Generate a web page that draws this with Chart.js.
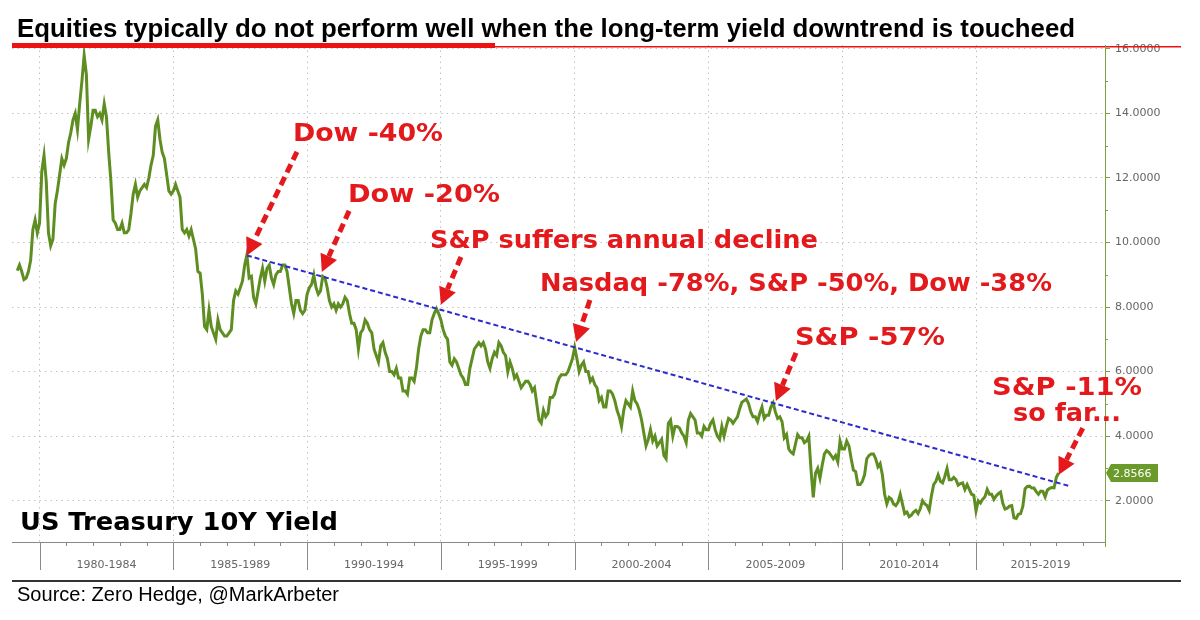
<!DOCTYPE html>
<html>
<head>
<meta charset="utf-8">
<script src="https://cdn.jsdelivr.net/npm/chart.js@4.4.1/dist/chart.umd.min.js"></script>
<style>
    html, body { margin: 0; padding: 0; background: #fff; }
</style>
</head>
<body>
<canvas id="yieldChart" width="1200" height="620"></canvas>
<script>
// US 10Y Treasury yield, monthly, from Mar 1979 to Feb 2018
const startYear = 1979;
const startMonth = 2; // March
const y1979 = [9.13, 9.3, 9.1, 8.85, 8.9, 9.1, 9.45, 10.4, 10.7, 10.3];
const y1980 = [10.6, 12.2, 12.7, 11.9, 10.3, 9.9, 10.1, 11.2, 11.6, 12.1, 12.6, 12.4];
const y1981 = [12.6, 13.1, 13.4, 13.8, 14.0, 13.5, 14.3, 15.0, 15.8, 15.2, 13.2, 13.6];
const y1982 = [14.1, 14.1, 13.9, 14.0, 13.8, 14.3, 13.9, 12.8, 11.9, 10.7, 10.6, 10.4];
const y1983 = [10.4, 10.6, 10.3, 10.3, 10.4, 10.9, 11.5, 11.8, 11.4, 11.6, 11.7, 11.8];
const y1984 = [11.7, 12.0, 12.4, 12.7, 13.6, 13.8, 13.2, 12.8, 12.6, 12.1, 11.6, 11.5];
const y1985 = [11.6, 11.8, 11.6, 11.4, 10.4, 10.3, 10.4, 10.2, 10.4, 10.1, 9.8, 9.1];
const y1986 = [9.05, 8.4, 7.4, 7.3, 7.9, 7.4, 7.2, 7.0, 7.6, 7.3, 7.2, 7.1];
const y1987 = [7.1, 7.2, 7.3, 8.2, 8.5, 8.4, 8.6, 8.8, 9.3, 9.62, 8.9, 8.95];
const y1988 = [8.3, 8.1, 8.5, 8.9, 9.2, 8.8, 9.2, 9.3, 8.9, 8.7, 9.0, 9.1];
const y1989 = [9.1, 9.3, 9.3, 9.1, 8.6, 8.1, 7.8, 8.2, 8.2, 7.9, 7.8, 7.9];
const y1990 = [8.4, 8.6, 8.7, 9.0, 8.6, 8.4, 8.5, 8.95, 8.9, 8.6, 8.2, 8.0];
const y1991 = [8.1, 7.9, 8.1, 8.0, 8.1, 8.3, 8.2, 7.8, 7.5, 7.5, 7.3, 6.7];
const y1992 = [7.2, 7.3, 7.6, 7.5, 7.3, 7.2, 6.7, 6.5, 6.3, 6.8, 6.9, 6.6];
const y1993 = [6.4, 6.0, 6.0, 5.9, 6.1, 5.8, 5.8, 5.4, 5.4, 5.3, 5.8, 5.8];
const y1994 = [5.7, 6.1, 6.7, 7.1, 7.3, 7.3, 7.2, 7.2, 7.6, 7.8, 7.95, 7.8];
const y1995 = [7.6, 7.3, 7.1, 7.0, 6.3, 6.2, 6.4, 6.3, 6.1, 5.9, 5.8, 5.6];
const y1996 = [5.6, 6.1, 6.4, 6.7, 6.8, 6.9, 6.8, 6.9, 6.7, 6.3, 6.1, 6.4];
const y1997 = [6.6, 6.5, 6.9, 6.8, 6.6, 6.5, 6.0, 6.3, 6.1, 5.8, 5.9, 5.7];
const y1998 = [5.5, 5.6, 5.7, 5.7, 5.6, 5.4, 5.5, 5.0, 4.5, 4.4, 4.8, 4.6];
const y1999 = [4.7, 5.2, 5.2, 5.3, 5.6, 5.8, 5.9, 5.9, 5.9, 6.0, 6.2, 6.4];
const y2000 = [6.75, 6.4, 6.0, 6.2, 6.3, 6.0, 6.0, 5.7, 5.8, 5.6, 5.5, 5.1];
const y2001 = [5.2, 4.9, 4.9, 5.4, 5.4, 5.3, 5.1, 4.8, 4.6, 4.3, 4.8, 5.1];
const y2002 = [5.0, 4.9, 5.4, 5.1, 5.0, 4.8, 4.5, 4.1, 3.7, 3.9, 4.2, 3.85];
const y2003 = [4.0, 3.7, 3.8, 3.9, 3.4, 3.3, 4.4, 4.5, 4.0, 4.3, 4.3, 4.25];
const y2004 = [4.1, 4.0, 3.8, 4.5, 4.7, 4.6, 4.5, 4.1, 4.1, 4.0, 4.3, 4.2];
const y2005 = [4.2, 4.4, 4.5, 4.2, 4.0, 3.9, 4.3, 4.0, 4.3, 4.55, 4.5, 4.4];
const y2006 = [4.5, 4.6, 4.85, 5.05, 5.1, 5.15, 5.0, 4.75, 4.6, 4.6, 4.45, 4.7];
const y2007 = [4.9, 4.55, 4.65, 4.65, 4.9, 5.03, 4.75, 4.55, 4.6, 4.45, 3.95, 4.05];
const y2008 = [3.6, 3.5, 3.45, 3.75, 4.05, 3.95, 3.95, 3.8, 3.85, 4.0, 2.95, 2.1];
const y2009 = [2.85, 3.0, 2.7, 3.1, 3.45, 3.55, 3.5, 3.4, 3.3, 3.4, 3.2, 3.85];
const y2010 = [3.6, 3.6, 3.85, 3.7, 3.3, 2.95, 2.9, 2.5, 2.5, 2.6, 2.8, 3.3];
const y2011 = [3.4, 3.45, 3.45, 3.3, 3.05, 3.15, 2.8, 2.2, 1.9, 2.1, 2.05, 1.9];
const y2012 = [1.85, 1.95, 2.2, 1.9, 1.6, 1.65, 1.5, 1.55, 1.65, 1.7, 1.6, 1.75];
const y2013 = [2.0, 1.9, 1.85, 1.7, 2.15, 2.5, 2.6, 2.8, 2.6, 2.55, 2.75, 3.0];
const y2014 = [2.65, 2.65, 2.72, 2.65, 2.48, 2.53, 2.55, 2.35, 2.5, 2.35, 2.2, 2.17];
const y2015 = [1.68, 2.0, 1.93, 2.05, 2.12, 2.35, 2.2, 2.2, 2.04, 2.15, 2.22, 2.27];
const y2016 = [1.92, 1.74, 1.77, 1.83, 1.85, 1.47, 1.45, 1.58, 1.6, 1.83, 2.37, 2.44];
const y2017 = [2.45, 2.39, 2.39, 2.28, 2.2, 2.3, 2.29, 2.12, 2.33, 2.38, 2.41, 2.4];
const y2018 = [2.72, 2.8566];

// downtrend line (year, yield)
const trendYears = [1987.75, 2018.5];
const trendValues = [9.6, 2.45];

// x axis periods and y axis ticks
const periodStarts = [1980, 1985, 1990, 1995, 2000, 2005, 2010, 2015];
const periodLabels = ['1980-1984', '1985-1989', '1990-1994', '1995-1999', '2000-2004', '2005-2009', '2010-2014', '2015-2019'];
const yTicks = [2, 4, 6, 8, 10, 12, 14, 16];

// annotations: text anchor, arrow tail and arrow tip in (year, yield)
const notes = [
    { lines: ['Dow -40%'], at: [1989.47, 13.34], tail: [1989.62, 12.81], tip: [1987.75, 9.6] },
    { lines: ['Dow -20%'], at: [1991.53, 11.45], tail: [1991.57, 10.98], tip: [1990.55, 9.09] },
    { lines: ['S&P suffers annual decline'], at: [1994.59, 10.02], tail: [1995.75, 9.55], tip: [1995.0, 8.07] },
    { lines: ['Nasdaq -78%, S&P -50%, Dow -38%'], at: [1998.7, 8.69], tail: [2000.57, 8.22], tip: [2000.05, 6.92] },
    { lines: ['S&P -57%'], at: [2008.23, 7.04], tail: [2008.27, 6.58], tip: [2007.52, 5.09] },
    { lines: ['S&P -11%', 'so far...'], at: [2018.4, 5.49], tail: [2018.99, 4.25], tip: [2018.09, 2.8], center: true }
];
const noteWidths = { 'Dow -40%': 150, 'Dow -20%': 152, 'S&P suffers annual decline': 388,
    'Nasdaq -78%, S&P -50%, Dow -38%': 512, 'S&P -57%': 150, 'S&P -11%': 150, 'so far...': 108 };

const allYields = [].concat(y1979, y1980, y1981, y1982, y1983, y1984, y1985, y1986, y1987, y1988,
    y1989, y1990, y1991, y1992, y1993, y1994, y1995, y1996, y1997, y1998, y1999, y2000, y2001,
    y2002, y2003, y2004, y2005, y2006, y2007, y2008, y2009, y2010, y2011, y2012, y2013, y2014,
    y2015, y2016, y2017, y2018);
const yieldPoints = allYields.map((v, i) => ({ x: startYear + (startMonth + i) / 12, y: v }));
const trendPoints = trendYears.map((t, i) => ({ x: t, y: trendValues[i] }));

const RED = '#e3191c';

// draws text squeezed or stretched to a given width
function fitText(ctx, text, left, baseY, width) {
    const w = ctx.measureText(text).width;
    ctx.save();
    ctx.translate(left, baseY);
    ctx.scale(width / w, 1);
    ctx.fillText(text, 0, 0);
    ctx.restore();
}

function drawArrow(ctx, x1, y1, x2, y2) {
    const ang = Math.atan2(y2 - y1, x2 - x1);
    const head = 17;
    const bx = x2 - Math.cos(ang) * head;
    const by = y2 - Math.sin(ang) * head;
    ctx.strokeStyle = RED;
    ctx.fillStyle = RED;
    ctx.lineWidth = 5;
    ctx.setLineDash([9, 5]);
    ctx.beginPath();
    ctx.moveTo(x1, y1);
    ctx.lineTo(bx, by);
    ctx.stroke();
    ctx.setLineDash([]);
    ctx.beginPath();
    ctx.moveTo(x2, y2);
    ctx.lineTo(bx + Math.sin(ang) * 9, by - Math.cos(ang) * 9);
    ctx.lineTo(bx - Math.sin(ang) * 9, by + Math.cos(ang) * 9);
    ctx.closePath();
    ctx.fill();
}

const decor = {
    id: 'decor',
    afterDraw(chart) {
        const { ctx, chartArea: a, scales: { x, y } } = chart;
        ctx.save();

        // title and underline
        ctx.fillStyle = '#000';
        ctx.textBaseline = 'alphabetic';
        ctx.font = 'bold 25px "Liberation Sans", Arial, sans-serif';
        fitText(ctx, 'Equities typically do not perform well when the long-term yield downtrend is toucheed', 17, 37, 1058);
        ctx.fillStyle = '#ee1111';
        ctx.fillRect(12, 43, 483, 5);
        ctx.fillRect(12, 46, 1169, 1.5);

        // right axis line with minor ticks
        ctx.strokeStyle = '#7f9f45';
        ctx.lineWidth = 1;
        ctx.beginPath();
        ctx.moveTo(a.right + 0.5, a.top);
        ctx.lineTo(a.right + 0.5, a.bottom + 5);
        for (let v = 3; v <= 15; v += 2) {
            const py = Math.round(y.getPixelForValue(v)) + 0.5;
            ctx.moveTo(a.right, py);
            ctx.lineTo(a.right + 3, py);
        }
        ctx.stroke();

        // bottom axis, yearly ticks and period dividers
        ctx.strokeStyle = '#8a8a8a';
        ctx.beginPath();
        ctx.moveTo(a.left, a.bottom + 0.5);
        ctx.lineTo(a.right, a.bottom + 0.5);
        for (let yr = 1980; yr <= 2019; yr++) {
            const px = Math.round(x.getPixelForValue(yr)) + 0.5;
            ctx.moveTo(px, a.bottom);
            ctx.lineTo(px, a.bottom + (yr % 5 === 0 ? 28 : 4));
        }
        ctx.stroke();

        ctx.fillStyle = '#666';
        ctx.font = '11px "DejaVu Sans", sans-serif';
        ctx.textAlign = 'center';
        ctx.textBaseline = 'middle';
        periodStarts.forEach((p, i) => {
            const x1 = x.getPixelForValue(p);
            const x2 = Math.min(x.getPixelForValue(p + 5), a.right);
            ctx.fillText(periodLabels[i], (x1 + x2) / 2, a.bottom + 23);
        });

        // line under the axis labels and source
        ctx.fillStyle = '#333';
        ctx.fillRect(12, 580, 1169, 2);
        ctx.textAlign = 'left';
        ctx.textBaseline = 'alphabetic';
        ctx.fillStyle = '#000';
        ctx.font = '20px "Liberation Sans", Arial, sans-serif';
        fitText(ctx, 'Source: Zero Hedge, @MarkArbeter', 17, 601, 322);

        // series name
        ctx.font = 'bold 24px "DejaVu Sans", Verdana, sans-serif';
        fitText(ctx, 'US Treasury 10Y Yield', 20, 530, 318);

        // last value box
        const last = allYields[allYields.length - 1];
        const ly = y.getPixelForValue(last);
        ctx.fillStyle = '#6a9a2a';
        ctx.beginPath();
        ctx.moveTo(a.right + 1, ly);
        ctx.lineTo(a.right + 6, ly - 9);
        ctx.lineTo(a.right + 53, ly - 9);
        ctx.lineTo(a.right + 53, ly + 9);
        ctx.lineTo(a.right + 6, ly + 9);
        ctx.closePath();
        ctx.fill();
        ctx.fillStyle = '#fff';
        ctx.font = '11px "DejaVu Sans", sans-serif';
        ctx.textBaseline = 'middle';
        ctx.fillText(last.toFixed(4), a.right + 8, ly + 1);

        // annotations
        ctx.font = 'bold 25px "DejaVu Sans", Verdana, sans-serif';
        notes.forEach(n => {
            const left = x.getPixelForValue(n.at[0]);
            let cy = y.getPixelForValue(n.at[1]);
            ctx.fillStyle = RED;
            ctx.textBaseline = 'middle';
            n.lines.forEach(t => {
                const w = noteWidths[t];
                fitText(ctx, t, n.center ? left - w / 2 : left, cy, w);
                cy += 26;
            });
            drawArrow(ctx, x.getPixelForValue(n.tail[0]), y.getPixelForValue(n.tail[1]),
                x.getPixelForValue(n.tip[0]), y.getPixelForValue(n.tip[1]));
        });

        ctx.restore();
    }
};

const ctx = document.getElementById('yieldChart').getContext('2d');
new Chart(ctx, {
    type: 'line',
    data: {
        datasets: [
            {
                data: yieldPoints,
                borderColor: '#5e8e22',
                borderWidth: 3,
                pointRadius: 0,
                tension: 0,
                order: 2
            },
            {
                data: trendPoints,
                borderColor: '#2b2bd0',
                borderWidth: 2,
                borderDash: [5, 3],
                pointRadius: 0,
                order: 1
            }
        ]
    },
    options: {
        responsive: false,
        animation: false,
        layout: { padding: { left: 12, top: 45, right: 0, bottom: 78 } },
        plugins: {
            legend: { display: false },
            tooltip: { enabled: false }
        },
        scales: {
            x: {
                type: 'linear',
                min: 1978.97,
                max: 2019.82,
                afterBuildTicks: s => { s.ticks = periodStarts.map(v => ({ value: v })); },
                afterFit: s => { s.height = 0; },
                ticks: { display: false },
                grid: { color: '#c2c2c2', drawTicks: false },
                border: { display: false, dash: [1.5, 4] }
            },
            y: {
                position: 'right',
                min: 0.72,
                max: 16.12,
                afterBuildTicks: s => { s.ticks = yTicks.map(v => ({ value: v })); },
                afterFit: s => { s.width = 95; },
                ticks: {
                    callback: v => Number(v).toFixed(4),
                    color: '#666',
                    font: { family: '"DejaVu Sans", sans-serif', size: 11 },
                    padding: 5
                },
                grid: { color: '#c2c2c2', tickColor: '#7f9f45', tickLength: 5 },
                border: { display: false, dash: [1.5, 4] }
            }
        }
    },
    plugins: [decor]
});
</script>
</body>
</html>
